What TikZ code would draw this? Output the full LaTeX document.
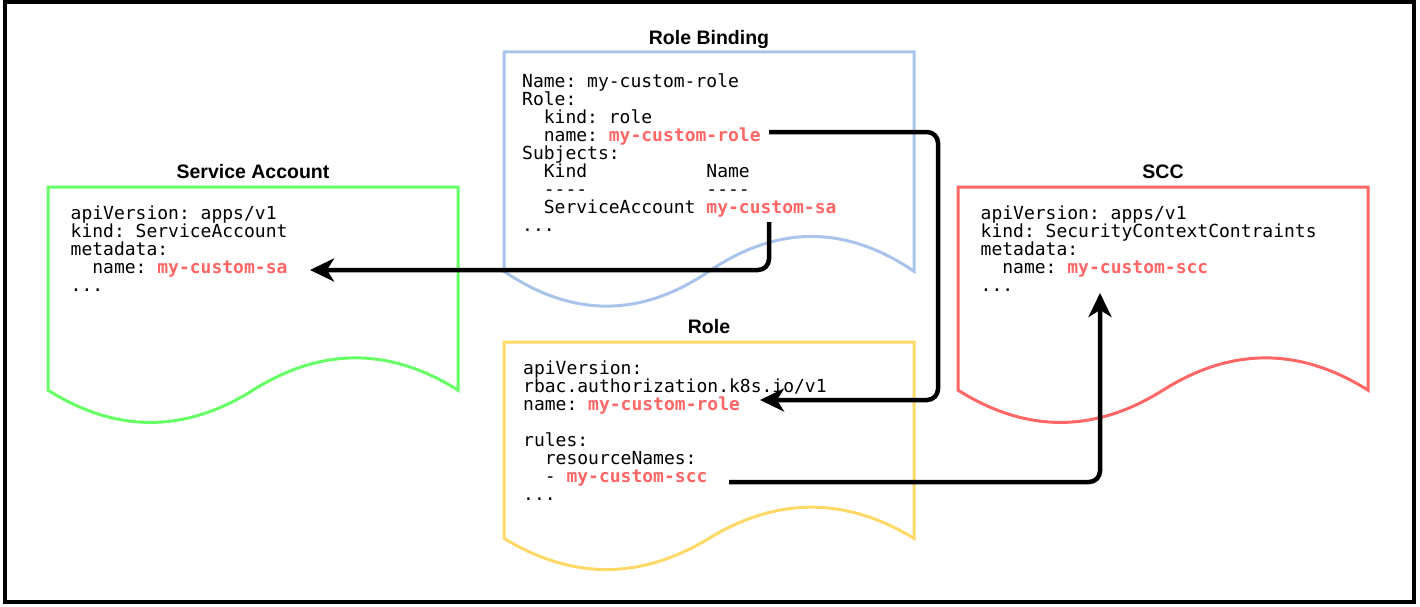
\documentclass[tikz,border=0pt]{standalone}
\usepackage{fontspec}
\setsansfont{Liberation Sans}
\setmonofont{DejaVu Sans Mono}
\usetikzlibrary{arrows.meta}
\definecolor{rbblue}{HTML}{A9C4EB}
\definecolor{sagreen}{HTML}{66FF66}
\definecolor{roleyellow}{HTML}{FFD966}
\definecolor{sccred}{HTML}{FF6666}
\definecolor{hl}{HTML}{FF6666}
\newlength\cw
\setlength\cw{10.836pt}
\newcommand\hlt[1]{\textcolor{hl}{\bfseries #1}}
\newcommand\blank[1]{\hspace*{#1\cw}}
\newcommand\docshape[5]{%
  \draw[docbox,#1] (#2,#3) -- ({#2+#4},#3) -- ({#2+#4},{#3+0.85*#5})
    .. controls ({#2+0.8333*#4},{#3+0.67*#5}) and ({#2+0.6667*#4},{#3+0.67*#5}) .. ({#2+0.5*#4},{#3+0.85*#5})
    .. controls ({#2+0.3333*#4},{#3+1.03*#5}) and ({#2+0.1667*#4},{#3+1.03*#5}) .. (#2,{#3+0.85*#5}) -- cycle;}
\tikzset{
  docbox/.style={line width=3pt, fill=white, line join=miter},
  titletext/.style={font=\sffamily\bfseries\fontsize{19.5}{20}\selectfont, anchor=base, inner sep=0pt},
  codetext/.style={font=\ttfamily\fontsize{18}{18}\selectfont, anchor=base west, inner sep=0pt},
  arr/.style={line width=4.5pt, rounded corners=11pt, -{Stealth[length=24pt, width=23pt, inset=7pt]}},
}
\begin{document}
\begin{tikzpicture}[x=1pt, y=-1pt]
\useasboundingbox (0,0) rectangle (1420,607);
\fill[white] (0,0) rectangle (1420,607);
\draw[line width=4pt] (4.5,2) rectangle (1414,601.5);

% document shapes
\docshape{draw=sagreen}{48}{187}{410}{239}
\docshape{draw=rbblue}{504}{52}{410}{258}
\docshape{draw=roleyellow}{504}{342}{410}{231}
\docshape{draw=sccred}{958}{187}{410}{239}

% titles
\node[titletext] (tRB) at (709,44.5) {Role Binding};
\node[titletext] (tSA) at (253,178.3) {Service Account};
\node[titletext] (tSCC) at (1163,178.3) {SCC};
\node[titletext] (tRole) at (709,333.3) {Role};

% code texts
\node[codetext] (rbText) at (522,88) {\parbox[t]{390pt}{%
Name: my-custom-role\\
Role:\\
\blank{2}kind: role\\
\blank{2}name: \hlt{my-custom-role}\\
Subjects:\\
\blank{2}Kind\blank{11}Name\\
\blank{2}-{}-{}-{}-\blank{11}-{}-{}-{}-\\
\blank{2}ServiceAccount \hlt{my-custom-sa}\\
...}};

\node[codetext] (saText) at (70.5,219) {\parbox[t]{390pt}{%
apiVersion: apps/v1\\
kind: ServiceAccount\\
metadata:\\
\blank{2}name: \hlt{my-custom-sa}\\
...}};

\node[codetext] (sccText) at (980.5,219) {\parbox[t]{390pt}{%
apiVersion: apps/v1\\
kind: SecurityContextContraints\\
metadata:\\
\blank{2}name: \hlt{my-custom-scc}\\
...}};

\node[codetext] (roleText) at (523,374) {\parbox[t]{390pt}{%
apiVersion:\\
rbac.authorization.k8s.io/v1\\
name: \hlt{my-custom-role}\\
\mbox{}\\
rules:\\
\blank{2}resourceNames:\\
\blank{2}- \hlt{my-custom-scc}\\
...}};

% connector end points
\coordinate (rbRoleRef) at (769,132);
\coordinate (roleName) at (760,400);
\coordinate (rbSaRef) at (769,222);
\coordinate (saName) at (310,270);
\coordinate (roleSccRef) at (729,482);
\coordinate (sccName) at (1100,293);

% connectors
\draw[arr] (rbRoleRef) -- ++(169,0) |- (roleName);
\draw[arr] (rbSaRef) |- (saName);
\draw[arr] (roleSccRef) -| (sccName);
\end{tikzpicture}
\end{document}
